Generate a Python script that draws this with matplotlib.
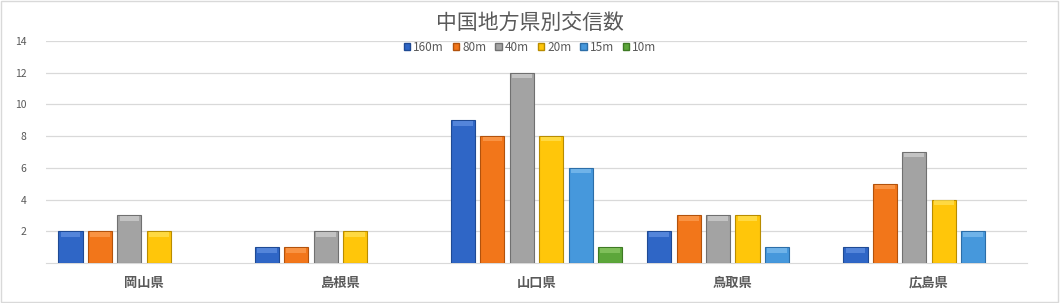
import numpy as np
import matplotlib.pyplot as plt
from matplotlib.patches import Rectangle

plt.rcParams['font.family'] = ['Noto Sans CJK JP', 'DejaVu Sans']

# Data
prefectures = ['岡山県', '島根県', '山口県', '鳥取県', '広島県']
bands = ['160m', '80m', '40m', '20m', '15m', '10m']
counts = {
    '160m': [2, 1, 9, 2, 1],
    '80m':  [2, 1, 8, 3, 5],
    '40m':  [3, 2, 12, 3, 7],
    '20m':  [2, 2, 8, 3, 4],
    '15m':  [0, 0, 6, 1, 2],
    '10m':  [0, 0, 1, 0, 0],
}
colors = ['#2F66C6', '#F2761A', '#A3A3A3', '#FFC60A', '#4698DC', '#5CA63A']
edges = ['#1F4A94', '#B2520C', '#707070', '#B88C00', '#2C6EA8', '#3E7A24']
tops = ['#6D9BE8', '#FFA860', '#DADADA', '#FFE766', '#8CC6F2', '#98D070']

fig = plt.figure(figsize=(10.6, 3.03), dpi=100)
ax = fig.add_axes([0.0434, 0.132, 0.9256, 0.733])

x = np.arange(len(prefectures))
step = 0.15
width = 0.123
cap = 0.28

for i, b in enumerate(bands):
    vals = np.array(counts[b], dtype=float)
    pos = x - 2.5 * step + i * step
    mask = vals > 0
    ax.bar(pos[mask], vals[mask], width, color=colors[i], edgecolor=edges[i],
           linewidth=0.8, zorder=3)
    # lighter bevelled top
    ax.bar(pos[mask], np.full(mask.sum(), cap), width * 0.82,
           bottom=vals[mask] - cap - 0.06, color=tops[i], linewidth=0,
           alpha=0.6, zorder=4)

ax.set_xlim(-0.5, len(prefectures) - 0.5)
ax.set_ylim(0, 14)
ax.set_yticks(range(2, 15, 2))
ax.set_xticks(x)
ax.set_xticklabels(prefectures, fontsize=9.5, fontweight='bold', color='#595959')
ax.tick_params(axis='y', labelsize=7.5, labelcolor='#595959', length=0, pad=14)
ax.tick_params(axis='x', length=0, pad=9)
ax.grid(axis='y', color='#D9D9D9', linewidth=0.9, zorder=0)
for s in ['top', 'right', 'left']:
    ax.spines[s].set_visible(False)
ax.spines['bottom'].set_color('#D9D9D9')

handles = [Rectangle((0, 0), 1, 1, facecolor=colors[i], edgecolor=edges[i])
           for i in range(len(bands))]
fig.legend(handles, bands, loc='center', bbox_to_anchor=(0.5, 0.843), ncol=6,
           frameon=False, fontsize=8.5, handlelength=0.55, handleheight=0.55,
           handletextpad=0.25, columnspacing=0.75, labelcolor='#595959')

fig.text(0.5, 0.925, '中国地方県別交信数', ha='center', va='center',
         fontsize=15, color='#595959')

fig.patches.append(Rectangle((0.001, 0.002), 0.997, 0.995, transform=fig.transFigure,
                             fill=False, edgecolor='#D9D9D9', linewidth=1))

fig.savefig('out.png', dpi=100)
